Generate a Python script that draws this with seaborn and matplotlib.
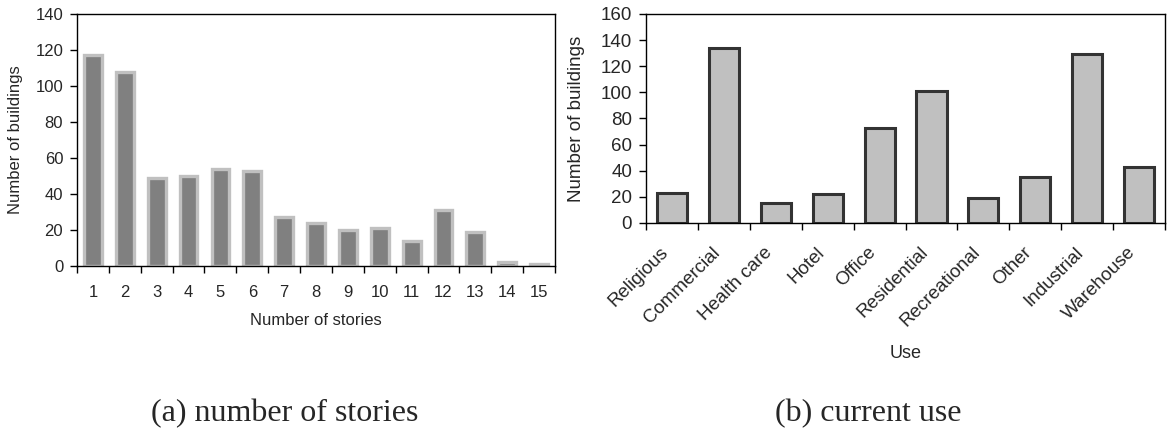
import numpy as np
import pandas as pd
import matplotlib
matplotlib.use("Agg")
import matplotlib.pyplot as plt
import seaborn as sns

# values
stories = [str(i) for i in range(1, 16)]
stories_count = [117, 108, 49, 50, 54, 53, 27, 24, 20, 21, 14, 31, 19, 2, 1]

uses = ['Religious', 'Commercial', 'Health care', 'Hotel', 'Office',
        'Residential', 'Recreational', 'Other', 'Industrial', 'Warehouse']
uses_count = [23, 134, 15, 22, 73, 101, 19, 35, 129, 43]

sns.set_style("white")
plt.rcParams['font.family'] = ['Liberation Sans', 'DejaVu Sans']

df_a = pd.DataFrame({'stories': stories, 'count': stories_count})
df_b = pd.DataFrame({'use': uses, 'count': uses_count})

fig = plt.figure(figsize=(11.67, 4.34), dpi=100)
ax1 = fig.add_axes([0.066, 0.387, 0.4096, 0.5806])
ax2 = fig.add_axes([0.5536, 0.4862, 0.4447, 0.4816])


def excel_axes(ax, n, ymax, ystep, fs, lab_pad):
    ax.set_xlim(-0.5, n - 0.5)
    ax.set_ylim(0, ymax)
    ax.set_yticks(np.arange(0, ymax + 1, ystep))
    # ticks sit between categories, labels at the centres
    ax.set_xticks(np.arange(-0.5, n, 1.0))
    ax.set_xticklabels([])
    ax.set_xticks(np.arange(n), minor=True)
    ax.tick_params(axis='x', which='major', direction='out', length=5,
                   width=1, color='black', bottom=True)
    ax.tick_params(axis='x', which='minor', length=0, pad=lab_pad,
                   labelsize=fs, bottom=True)
    ax.tick_params(axis='y', direction='out', length=5, width=1,
                   color='black', left=True, labelsize=fs, pad=5)
    for s in ax.spines.values():
        s.set_visible(True)
        s.set_color('black')
        s.set_linewidth(1.0)
    ax.grid(False)


# (a) number of stories
sns.barplot(data=df_a, x='stories', y='count', ax=ax1, color='#808080',
            saturation=1, width=0.56, edgecolor='#c0c0c0', linewidth=2.4)
excel_axes(ax1, len(stories), 140, 20, 12, 14)
ax1.set_xticklabels(stories, minor=True)
ax1.set_xlabel('Number of stories', fontsize=12, labelpad=9)
ax1.set_ylabel('Number of buildings', fontsize=12)
ax1.yaxis.set_label_coords(-0.113, 0.5)

# (b) current use
sns.barplot(data=df_b, x='use', y='count', ax=ax2, color='#c0c0c0',
            saturation=1, width=0.58, edgecolor='#333333', linewidth=2.2)
excel_axes(ax2, len(uses), 160, 20, 13.5, 15)
ax2.set_xticklabels(uses, minor=True, rotation=45, ha='right')
ax2.set_xlabel('Use', fontsize=13, labelpad=11)
ax2.set_ylabel('Number of buildings', fontsize=13.5)
ax2.yaxis.set_label_coords(-0.118, 0.5)

fig.text(285 / 1167, 1 - 414 / 434, '(a) number of stories', ha='center',
         va='center', fontsize=23, family=['Liberation Serif'])
fig.text(868 / 1167, 1 - 414 / 434, '(b) current use', ha='center',
         va='center', fontsize=23, family=['Liberation Serif'])

fig.savefig('out.png', dpi=100)
